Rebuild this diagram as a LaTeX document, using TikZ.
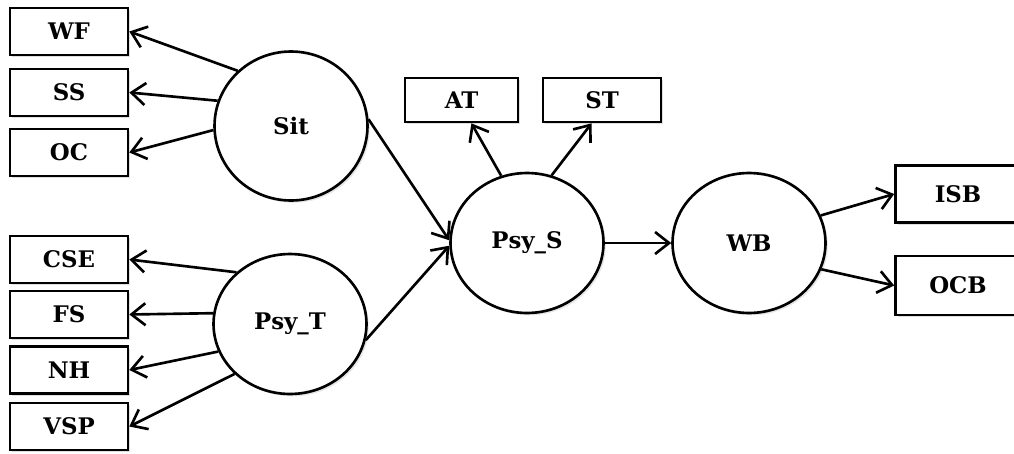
\documentclass[tikz,border=0pt]{standalone}
\usepackage{fontspec}
\setmainfont{DejaVu Serif}
\usetikzlibrary{shapes.geometric,arrows.meta,shadows}

\tikzset{
  obs/.style={draw, line width=1.5pt, fill=white, minimum width=2.36cm, minimum height=0.94cm,
    inner sep=0pt, font=\bfseries\fontsize{13}{15}\selectfont,
    drop shadow={shadow xshift=1.3pt, shadow yshift=-1.3pt, opacity=.25}},
  lat/.style={draw, ellipse, line width=1.5pt, fill=white, minimum width=3.06cm, minimum height=2.8cm,
    inner sep=0pt, font=\bfseries\fontsize{13}{15}\selectfont,
    drop shadow={shadow xshift=1.3pt, shadow yshift=-1.3pt, opacity=.2}},
  path/.style={line width=1.5pt, -{Straight Barb[length=2.8mm, width=4.4mm, line width=1.5pt]}}
}

\begin{document}
\begin{tikzpicture}[x=0.02cm, y=-0.02cm]
\useasboundingbox (0,0) rectangle (1014,453);
\clip (0,0) rectangle (1014,453);

% latent variables
\node[lat, minimum height=2.98cm] (Sit) at (291,126) {Sit};
\node[lat] (PsyT) at (290,324) {Psy\_T};
\node[lat] (PsyS) at (527,243) {Psy\_S};
\node[lat] (WB) at (749,243) {WB};

% indicators on the left
\foreach \name/\y in {WF/31.5, SS/92.5, OC/152.5, CSE/259.5, FS/314.5, NH/370, VSP/426.5}
\node[obs] (\name) at (69,\y) {\name};

% indicators above and right
\node[obs, minimum width=2.26cm, minimum height=0.88cm] (AT) at (461.5,100) {AT};
\node[obs, minimum width=2.36cm, minimum height=0.88cm] (ST) at (602,100) {ST};
\node[obs, minimum width=2.5cm, minimum height=1.14cm] (ISB) at (958,194) {ISB};
\node[obs, minimum width=2.5cm, minimum height=1.18cm] (OCB) at (958,285.5) {OCB};

% draw loadings
\draw[path] (Sit.134) -- (WF.east);
\draw[path] (Sit.161) -- (SS.east);
\draw[path] (Sit.183) -- (OC.east);
\draw[path] (PsyT.136) -- (CSE.east);
\draw[path] (PsyT.172) -- (FS.east);
\draw[path] (PsyT.201) -- (NH.east);
\draw[path] (PsyT.222) -- (VSP.east);
\draw[path] (PsyS.111) -- (AT.-67);
\draw[path] (PsyS.70) -- (ST.-114);
\draw[path] (WB.21) -- (ISB.west);
\draw[path] (WB.-20) -- (OCB.west);

% draw structural paths
\draw[path] (Sit.5) -- (PsyS.178);
\draw[path] (PsyT.-12) -- (PsyS.182);
\draw[path] (PsyS.east) -- (WB.west);
\end{tikzpicture}
\end{document}
